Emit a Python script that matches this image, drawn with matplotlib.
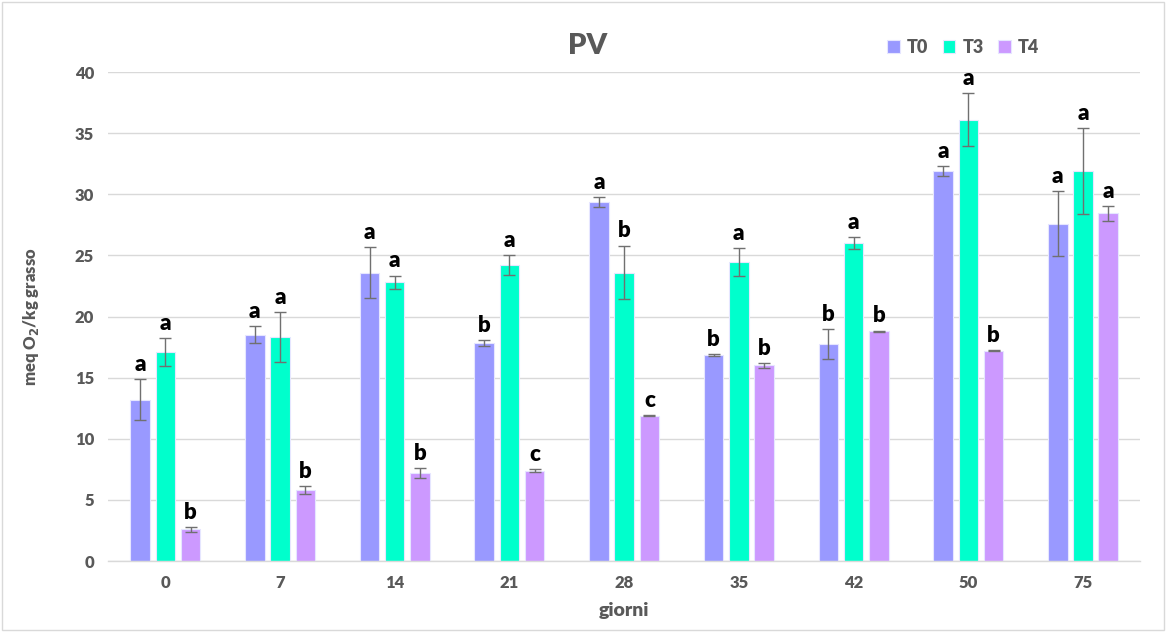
import numpy as np
import matplotlib
matplotlib.use("Agg")
import matplotlib.pyplot as plt
from matplotlib.patches import Rectangle

plt.rcParams['font.family'] = ['Lato', 'DejaVu Sans']

giorni = ["0", "7", "14", "21", "28", "35", "42", "50", "75"]

t0 = [13.2, 18.5, 23.6, 17.8, 29.4, 16.85, 17.75, 31.9, 27.6]
t3 = [17.1, 18.3, 22.8, 24.2, 23.6, 24.45, 26.0, 36.1, 31.9]
t4 = [2.6, 5.8, 7.2, 7.4, 11.9, 16.0, 18.8, 17.2, 28.45]

t0_err = [1.7, 0.7, 2.05, 0.25, 0.4, 0.05, 1.25, 0.4, 2.65]
t3_err = [1.15, 2.05, 0.55, 0.8, 2.2, 1.15, 0.5, 2.15, 3.5]
t4_err = [0.2, 0.3, 0.4, 0.1, 0.05, 0.2, 0.05, 0.05, 0.6]

t0_lett = ["a", "a", "a", "b", "a", "b", "b", "a", "a"]
t3_lett = ["a", "a", "a", "a", "b", "a", "a", "a", "a"]
t4_lett = ["b", "b", "b", "c", "c", "b", "b", "b", "a"]

series = [
    ("T0", t0, t0_err, t0_lett, "#9999FF"),
    ("T3", t3, t3_err, t3_lett, "#00FFCC"),
    ("T4", t4, t4_err, t4_lett, "#CC99FF"),
]

grey = "#595959"
heavy = "heavy"

fig = plt.figure(figsize=(11.66, 6.32), dpi=100)
ax = fig.add_axes([0.0926, 0.1123, 0.8854, 0.7737])

x = np.arange(len(giorni))
step = 0.22
width = 0.17

for i, (name, vals, errs, letts, col) in enumerate(series):
    pos = x + (i - 1) * step
    ax.bar(pos, vals, width, color=col, edgecolor="#E6E6FF", linewidth=0.8,
           label=name, zorder=2)
    ax.errorbar(pos, vals, yerr=errs, fmt="none", ecolor="#707070",
                elinewidth=1.0, capsize=4, capthick=1.0, zorder=3)
    for p, v, e, l in zip(pos, vals, errs, letts):
        ax.annotate(l, (p, v + e), xytext=(0, 3), textcoords="offset points",
                    ha="center", va="bottom", fontsize=16, fontweight=heavy,
                    color="black", annotation_clip=False)

ax.set_ylim(0, 40)
ax.set_xlim(-0.5, len(giorni) - 0.5)
ax.set_yticks(np.arange(0, 41, 5))
ax.set_xticks(x)
ax.set_xticklabels(giorni)
ax.yaxis.grid(True, color="#D9D9D9", linewidth=1.0, zorder=0)
ax.set_axisbelow(True)
for s in ["top", "right", "left"]:
    ax.spines[s].set_visible(False)
ax.spines["bottom"].set_color("#D9D9D9")
ax.spines["bottom"].set_linewidth(1.0)
ax.tick_params(axis="both", length=0, labelsize=12, labelcolor=grey, pad=10)
for t in ax.get_xticklabels() + ax.get_yticklabels():
    t.set_fontweight(heavy)

ax.set_xlabel("giorni", fontsize=14, fontweight=heavy, color=grey, labelpad=8)
ax.set_ylabel("meq O$_\\mathbf{2}$/kg grasso", fontsize=12, fontweight=heavy,
              color=grey, labelpad=24)

fig.text(0.504, 0.928, "PV", ha="center", va="center", fontsize=21,
         fontweight=heavy, color=grey)

leg = fig.legend(loc="center", bbox_to_anchor=(0.826, 0.925), ncol=3,
                 frameon=False, fontsize=13, handlelength=0.7, handleheight=0.7,
                 handletextpad=0.4, columnspacing=0.8)
for t in leg.get_texts():
    t.set_fontweight(heavy)
    t.set_color(grey)

fig.patches.append(Rectangle((0.002, 0.003), 0.996, 0.994, transform=fig.transFigure,
                             fill=False, edgecolor="#D9D9D9", linewidth=1.0))

fig.savefig("out.png", dpi=100)
